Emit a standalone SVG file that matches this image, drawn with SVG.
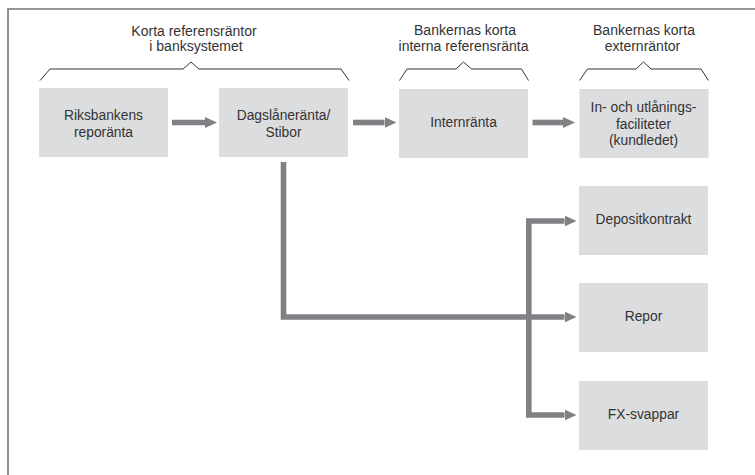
<svg xmlns="http://www.w3.org/2000/svg" width="755" height="475" viewBox="0 0 755 475">
<style>
.box{fill:#dcdddf;}
.t{font-family:"Liberation Sans",Arial,sans-serif;font-size:13.8px;fill:#333333;text-anchor:middle;}
.h{font-family:"Liberation Sans",Arial,sans-serif;font-size:14px;fill:#333333;text-anchor:middle;}
.brace{fill:none;stroke:#333333;stroke-width:1;}
.conn{fill:none;stroke:#808184;stroke-width:5.6;stroke-linejoin:miter;}
</style>
<defs>
<marker id="ah" viewBox="0 0 12 11" refX="0" refY="5.5" markerWidth="12" markerHeight="11" markerUnits="userSpaceOnUse" orient="auto">
<path d="M0,0 L12,5.5 L0,11 Z" fill="#808184"/>
</marker>
</defs>
<rect width="755" height="475" fill="#ffffff"/>
<path d="M8,475 V9 H755" fill="none" stroke="#737477" stroke-width="1.6"/>

<g id="headers">
<text class="h" x="194" y="35.5">Korta referensräntor</text>
<text class="h" x="196" y="51">i banksystemet</text>
<path class="brace" d="M40,80.5 L50,69 H183 L191,62 L199,69 H341 L349,80.5"/>
<text class="h" x="465" y="34.5">Bankernas korta</text>
<text class="h" x="463.5" y="51">interna referensränta</text>
<path class="brace" d="M399.5,80.5 L407,69 H456 L463.5,62 L471.5,69 H521.5 L528.5,80.5"/>
<text class="h" x="644" y="34.5">Bankernas korta</text>
<text class="h" x="642.5" y="51">externräntor</text>
<path class="brace" d="M579.5,80.5 L587.5,69 H636 L643.5,62 L651,69 H701 L708.5,80.5"/>
</g>

<g id="connectors">
<path class="conn" d="M172,122.5 H205" marker-end="url(#ah)"/>
<path class="conn" d="M353,122.5 H384.5" marker-end="url(#ah)"/>
<path class="conn" d="M532.5,122.5 H563" marker-end="url(#ah)"/>
<path class="conn" d="M283.5,162 V317 H564.5" marker-end="url(#ah)"/>
<path class="conn" d="M528.8,317 V221 H564.5" marker-end="url(#ah)"/>
<path class="conn" d="M528.8,317 V415 H564.5" marker-end="url(#ah)"/>
</g>

<g id="riksbankens">
<rect class="box" x="39" y="88" width="129" height="69"/>
<text class="t" x="103.5" y="120">Riksbankens</text>
<text class="t" x="103.5" y="136.5">reporänta</text>
</g>
<g id="dagslaneranta">
<rect class="box" x="219" y="88" width="129" height="69"/>
<text class="t" x="283.5" y="120">Dagslåneränta/</text>
<text class="t" x="283.5" y="136.5">Stibor</text>
</g>
<g id="internranta">
<rect class="box" x="399" y="89" width="129" height="69"/>
<text class="t" x="463.5" y="126.5">Internränta</text>
</g>
<g id="faciliteter">
<rect class="box" x="579.5" y="89" width="129" height="69"/>
<text class="t" x="643.5" y="112">In- och utlånings-</text>
<text class="t" x="643.5" y="128.5">faciliteter</text>
<text class="t" x="643.5" y="145">(kundledet)</text>
</g>
<g id="depositkontrakt">
<rect class="box" x="579" y="186" width="129" height="69"/>
<text class="t" x="643.5" y="223.5">Depositkontrakt</text>
</g>
<g id="repor">
<rect class="box" x="579" y="283" width="129" height="69"/>
<text class="t" x="643.5" y="320.5">Repor</text>
</g>
<g id="fxsvappar">
<rect class="box" x="579" y="381" width="129" height="69"/>
<text class="t" x="643.5" y="418.5">FX-svappar</text>
</g>
</svg>
